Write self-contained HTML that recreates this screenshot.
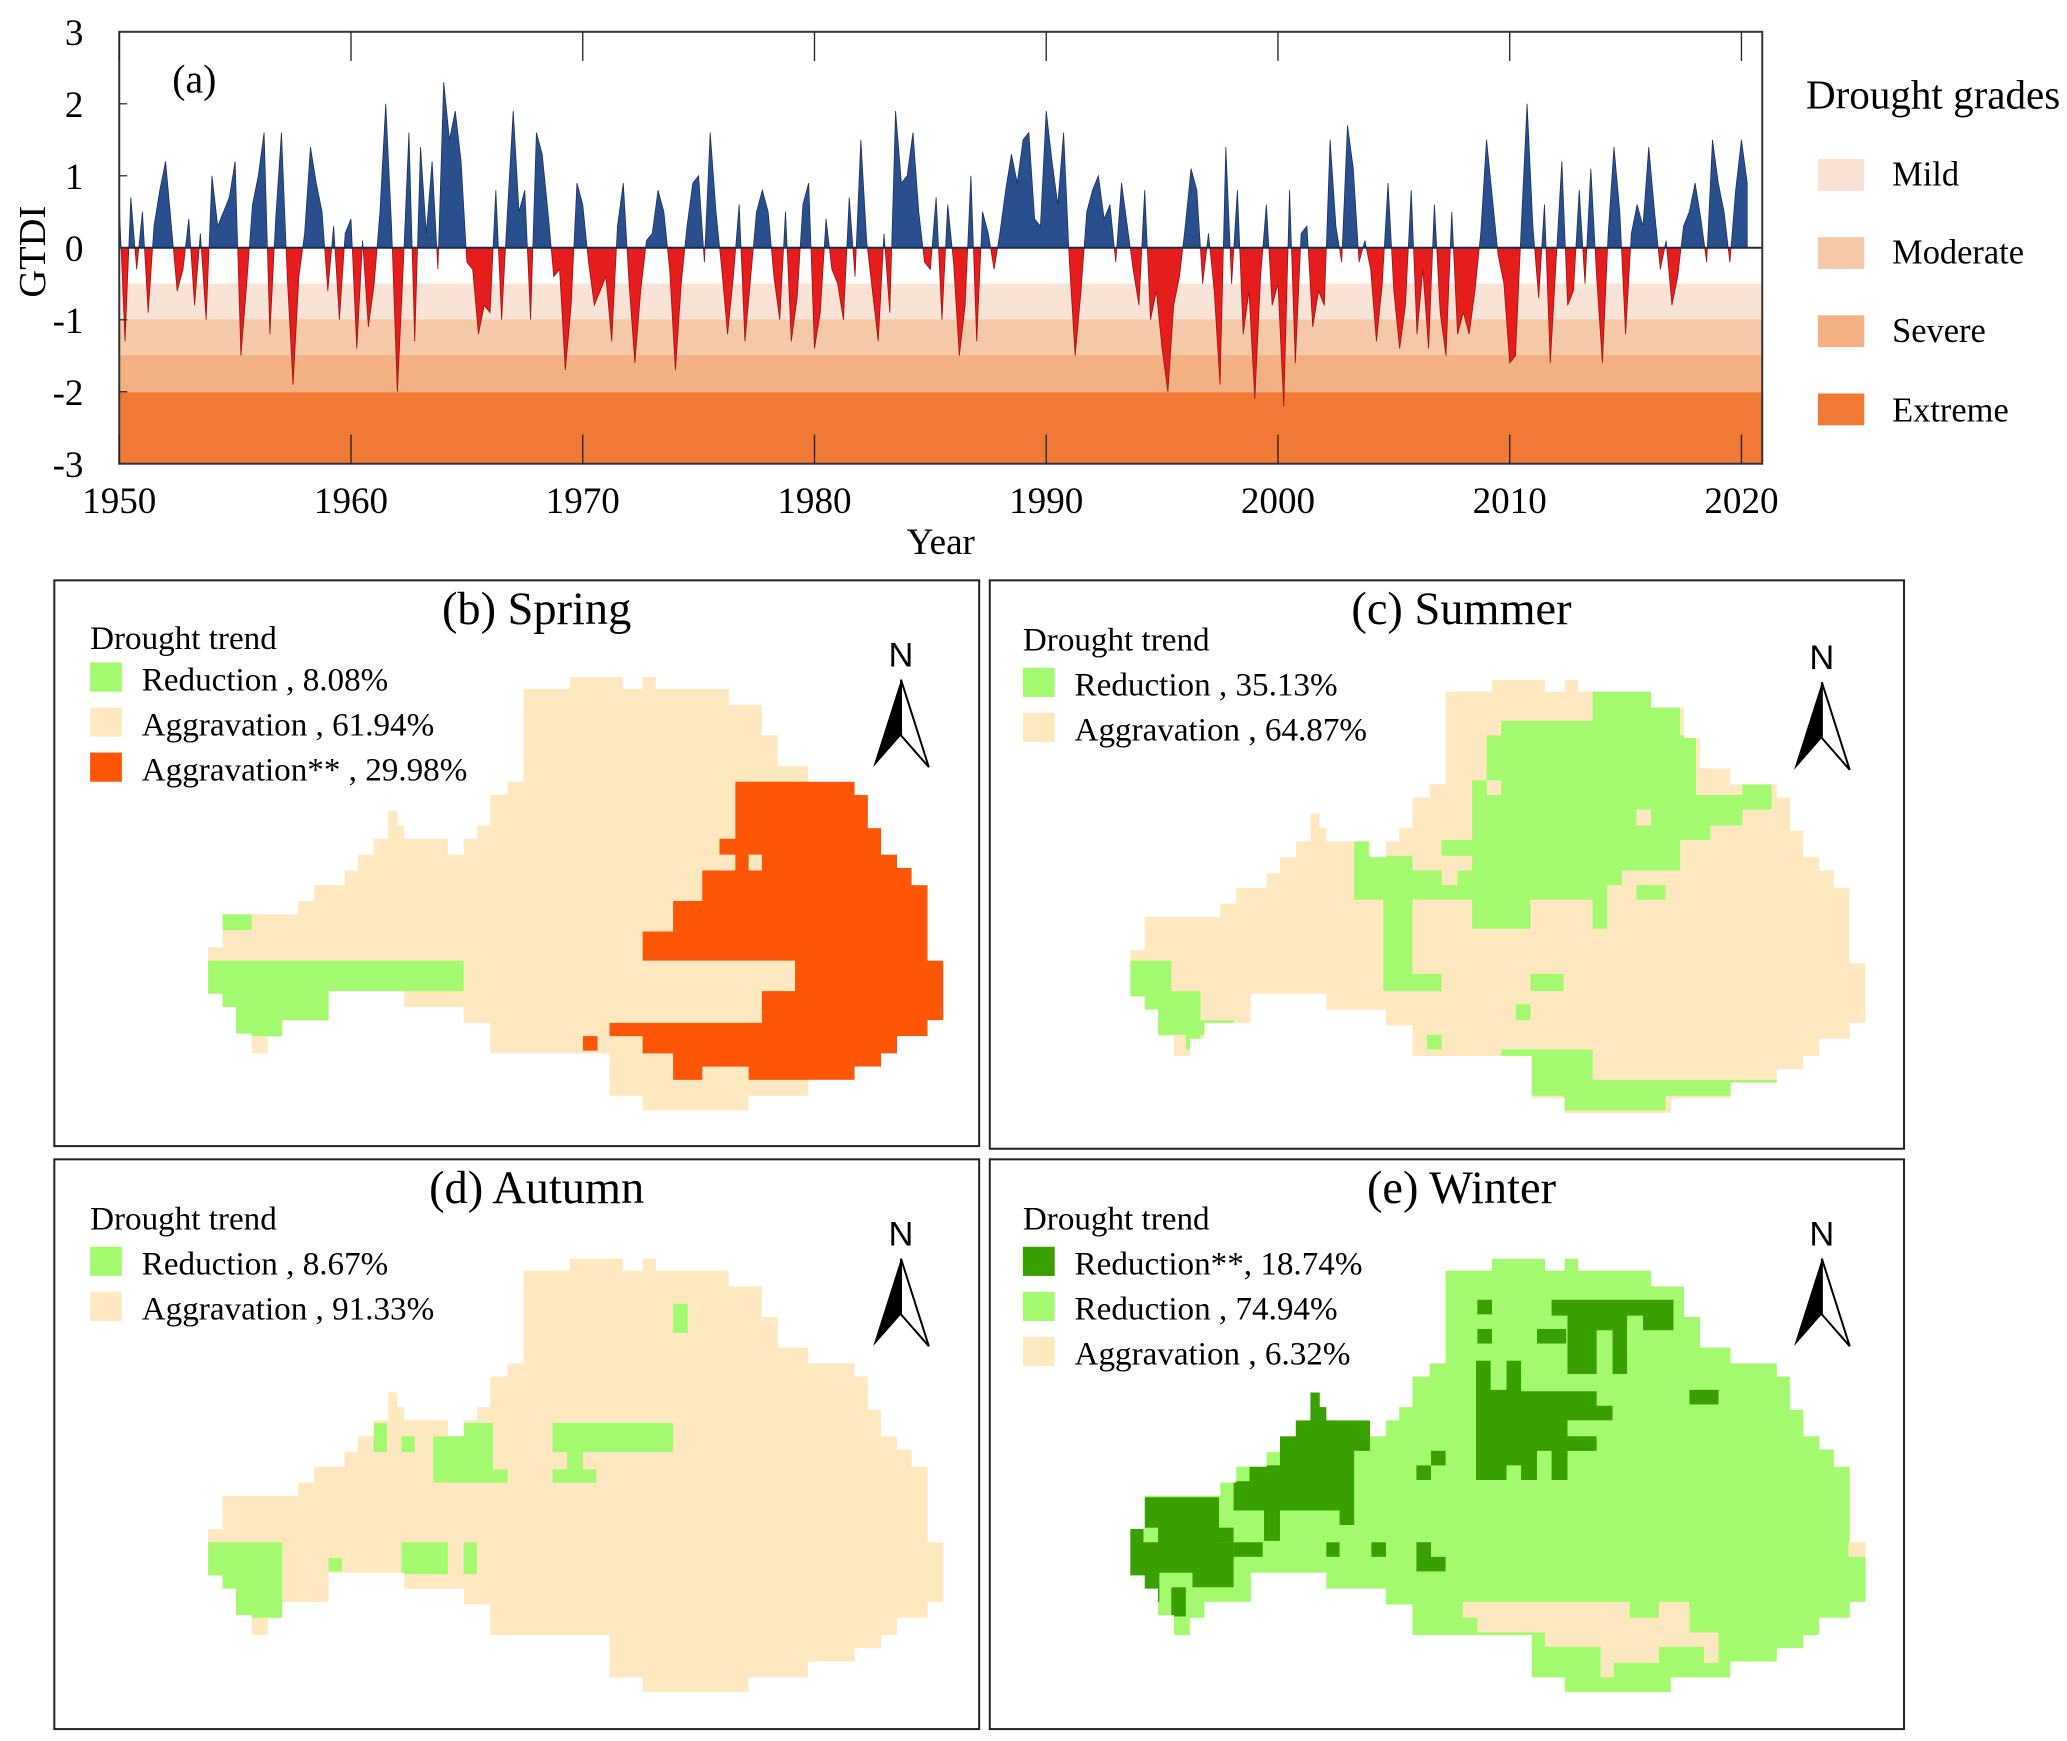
<!DOCTYPE html>
<html><head><meta charset="utf-8"><style>
html,body{margin:0;padding:0;background:#fff;}
svg{display:block;font-family:"Liberation Serif",serif;}
</style></head><body>
<svg id="fig" width="2067" height="1741" viewBox="0 0 1560 1314" preserveAspectRatio="none">
<defs>
<clipPath id="mapclip"><polygon points="430,511 470,511 470,520 485,520 485,511 495,511 495,520 550,520 550,532 575,532 575,555 587,555 587,578 610,578 610,590 645,590 645,600 655,600 655,625 665,625 665,645 677,645 677,655 688,655 688,668 700,668 700,725 712,725 712,770 700,770 700,782 677,782 677,795 665,795 665,805 645,805 645,815 610,815 610,827 565,827 565,838 485,838 485,827 460,827 460,795 370,795 370,772 350,772 350,760 305,760 305,748 248,748 248,770 213,770 213,782 202,782 202,795 190,795 190,780 178,780 178,760 168,760 168,750 157,750 157,715 168,715 168,690 225,690 225,680 237,680 237,668 260,668 260,657 270,657 270,645 282,645 282,633 293,633 293,612 300,612 300,623 305,623 305,633 338,633 338,645 350,645 350,633 360,633 360,623 370,623 370,600 383,600 383,590 395,590 395,520 430,520"/></clipPath>
<clipPath id="posclip"><rect x="90" y="0" width="1240" height="187"/></clipPath>
<clipPath id="negclip"><rect x="90" y="187" width="1240" height="200"/></clipPath>
</defs>

<!-- Panel (a) -->
<g id="chart-a">
<rect x="90" y="214" width="1240" height="27" fill="#f9e3d6"/>
<rect x="90" y="241" width="1240" height="27" fill="#f5c8a8"/>
<rect x="90" y="268" width="1240" height="28" fill="#f3b083"/>
<rect x="90" y="296" width="1240" height="54" fill="#ef7935"/>
<g id="series"></g>
<line x1="90" y1="187" x2="1330" y2="187" stroke="#1a2a4a" stroke-width="1.5"/>
<rect x="90" y="24" width="1240" height="326" fill="none" stroke="#333" stroke-width="1.5"/>
<g id="ticks"></g>
<text x="130" y="70" font-size="30">(a)</text>
<text x="34" y="190" font-size="29" text-anchor="middle" transform="rotate(-90 34 190)">GTDI</text>
<text x="710" y="418" font-size="28" text-anchor="middle">Year</text>
<g>
<text x="1363" y="82" font-size="31">Drought grades</text>
<rect x="1372" y="120" width="35" height="24" fill="#f9e3d6"/>
<text x="1428" y="140" font-size="26">Mild</text>
<rect x="1372" y="179" width="35" height="24" fill="#f5c8a8"/>
<text x="1428" y="199" font-size="26">Moderate</text>
<rect x="1372" y="238" width="35" height="24" fill="#f3b083"/>
<text x="1428" y="258" font-size="26">Severe</text>
<rect x="1372" y="297" width="35" height="24" fill="#ef7935"/>
<text x="1428" y="318" font-size="26">Extreme</text>
</g>
</g>

<!-- Panel frames -->
<rect x="41" y="438" width="698" height="427" fill="none" stroke="#222" stroke-width="1.5"/>
<rect x="747" y="438" width="690" height="429" fill="none" stroke="#222" stroke-width="1.5"/>
<rect x="41" y="875" width="698" height="430" fill="none" stroke="#222" stroke-width="1.5"/>
<rect x="747" y="875" width="690" height="430" fill="none" stroke="#222" stroke-width="1.5"/>

<!-- (b) Spring -->
<g><g clip-path="url(#mapclip)">
<rect x="140" y="500" width="590" height="350" fill="#fde8c0"/>
<rect x="168" y="690" width="22" height="12" fill="#a4fa6e"/>
<polygon fill="#a4fa6e" points="157,725 350,725 350,748 305,748 305,770 248,770 248,782 213,782 213,795 202,795 202,782 178,782 178,760 168,760 168,750 157,750"/>
<polygon fill="#fe5506" points="555,602 555,590 645,590 645,600 655,600 655,625 665,625 665,645 677,645 677,655 688,655 688,668 700,668 700,725 712,725 712,770 700,770 700,782 677,782 677,795 665,795 665,805 645,805 645,815 565,815 565,805 530,805 530,815 508,815 508,795 485,795 485,782 460,782 460,772 575,772 575,748 600,748 600,725 485,725 485,703 508,703 508,680 530,680 530,657 555,657 555,645 543,645 543,633 555,633"/>
<rect x="565" y="645" width="10" height="12" fill="#fde8c0"/>
<rect x="440" y="782" width="11" height="11" fill="#fe5506"/>
</g></g>
<text x="405" y="471" font-size="35" text-anchor="middle">(b) Spring</text>
<g font-size="25">
<text x="68" y="490">Drought trend</text>
<rect x="68" y="500" width="24" height="22" fill="#a4fa6e"/><text x="107" y="521">Reduction , 8.08%</text>
<rect x="68" y="534" width="24" height="22" fill="#fde8c0"/><text x="107" y="555">Aggravation , 61.94%</text>
<rect x="68" y="568" width="24" height="22" fill="#fe5506"/><text x="107" y="589">Aggravation** , 29.98%</text>
</g>

<!-- (c) Summer -->
<g transform="translate(696,2)" clip-path="url(#mapclip)">
<rect x="140" y="500" width="590" height="350" fill="#fde8c0"/>
<g transform="translate(-696,-2)">
<polygon fill="#a4fa6e" points="1202,521 1246,521 1246,532 1268,532 1268,555 1280,555 1280,600 1315,600 1315,589 1337,589 1337,611 1315,611 1315,623 1291,623 1291,634 1268,634 1268,657 1224,657 1224,668 1213,668 1213,701 1202,701 1202,679 1155,679 1155,701 1111,701 1111,679 1066,679 1066,735 1088,735 1088,748 1044,748 1044,679 1022,679 1022,634 1033,634 1033,646 1066,646 1066,657 1088,657 1088,668 1100,668 1100,657 1111,657 1111,646 1088,646 1088,634 1111,634 1111,589 1122,589 1122,555 1133,555 1133,544 1202,544"/>
<rect x="1122" y="589" width="11" height="11" fill="#fde8c0"/>
<rect x="1235" y="611" width="11" height="12" fill="#fde8c0"/>
<rect x="1235" y="668" width="22" height="11" fill="#a4fa6e"/>
<rect x="1155" y="735" width="25" height="13" fill="#a4fa6e"/>
<rect x="1144" y="758" width="11" height="12" fill="#a4fa6e"/>
<rect x="1077" y="781" width="11" height="11" fill="#a4fa6e"/>
<polygon fill="#a4fa6e" points="851,725 884,725 884,748 906,748 906,770 931,770 931,781 906,781 906,792 895,792 895,781 873,781 873,770 862,770 862,758 851,758"/>
<polygon fill="#a4fa6e" points="1133,792 1202,792 1202,815 1348,815 1348,827 1257,827 1257,838 1180,838 1180,827 1155,827 1155,804 1133,804"/>
</g></g>
<text x="1103" y="471" font-size="35" text-anchor="middle">(c) Summer</text>
<g font-size="25">
<text x="772" y="491">Drought trend</text>
<rect x="772" y="504" width="24" height="22" fill="#a4fa6e"/><text x="811" y="525">Reduction , 35.13%</text>
<rect x="772" y="538" width="24" height="22" fill="#fde8c0"/><text x="811" y="559">Aggravation , 64.87%</text>
</g>

<!-- (d) Autumn -->
<g transform="translate(0,439)"><g clip-path="url(#mapclip)">
<rect x="140" y="500" width="590" height="350" fill="#fde8c0"/>
<rect x="508" y="545" width="11" height="22" fill="#a4fa6e"/>
<polygon fill="#a4fa6e" points="157,725 213,725 213,770 237,770 237,782 213,782 213,795 202,795 202,782 178,782 178,770 157,770"/>
<rect x="303" y="725" width="35" height="24" fill="#a4fa6e"/>
<rect x="350" y="725" width="10" height="24" fill="#a4fa6e"/>
<rect x="248" y="737" width="10" height="10" fill="#a4fa6e"/>
<polygon fill="#a4fa6e" points="327,645 338,645 338,635 372,635 372,670 383,670 383,680 327,680"/>
<rect x="282" y="635" width="10" height="22" fill="#a4fa6e"/>
<rect x="303" y="645" width="10" height="12" fill="#a4fa6e"/>
<polygon fill="#a4fa6e" points="417,635 508,635 508,657 440,657 440,670 450,670 450,680 417,680 417,670 428,670 428,657 417,657"/>
</g></g>
<text x="405" y="908" font-size="35" text-anchor="middle">(d) Autumn</text>
<g font-size="25">
<text x="68" y="928">Drought trend</text>
<rect x="68" y="941" width="24" height="22" fill="#a4fa6e"/><text x="107" y="962">Reduction , 8.67%</text>
<rect x="68" y="975" width="24" height="22" fill="#fde8c0"/><text x="107" y="996">Aggravation , 91.33%</text>
</g>

<!-- (e) Winter -->
<g transform="translate(696,439)" clip-path="url(#mapclip)">
<rect x="140" y="500" width="590" height="350" fill="#a4fa6e"/>
<g transform="translate(-696,-439)">
<polygon fill="#fde8c0" points="1104,1209 1230,1209 1230,1221 1252,1221 1252,1209 1275,1209 1275,1232 1297,1232 1297,1255 1286,1255 1286,1243 1252,1243 1252,1255 1218,1255 1218,1266 1208,1266 1208,1243 1166,1243 1166,1232 1115,1232 1115,1221 1104,1221"/>
<rect x="1395" y="1164" width="15" height="11" fill="#fde8c0"/>
<polygon fill="#38a000" points="852,1153 863,1153 863,1130 920,1130 920,1164 931,1164 931,1198 900,1198 900,1187 875,1187 875,1209 863,1209 863,1198 852,1198"/>
<polygon fill="#38a000" points="988,1050 999,1050 999,1061 1011,1061 1011,1072 1034,1072 1034,1095 1022,1095 1022,1151 1011,1151 1011,1140 966,1140 966,1163 954,1163 954,1140 931,1140 931,1118 943,1118 943,1106 966,1106 966,1084 977,1084 977,1072 988,1072"/>
<polygon fill="#38a000" points="1114,1027 1125,1027 1125,1049 1137,1049 1137,1027 1148,1027 1148,1050 1205,1050 1205,1061 1217,1061 1217,1072 1183,1072 1183,1084 1205,1084 1205,1095 1183,1095 1183,1117 1171,1117 1171,1095 1160,1095 1160,1117 1148,1117 1148,1106 1137,1106 1137,1117 1114,1117"/>
<polygon fill="#38a000" points="1171,981 1263,981 1263,1004 1240,1004 1240,993 1228,993 1228,1037 1217,1037 1217,1004 1205,1004 1205,1037 1183,1037 1183,993 1171,993"/>
<rect x="1115" y="981" width="11" height="11" fill="#38a000"/>
<rect x="1115" y="1003" width="11" height="11" fill="#38a000"/>
<rect x="1160" y="1003" width="22" height="11" fill="#38a000"/>
<rect x="1275" y="1049" width="22" height="11" fill="#38a000"/>
<rect x="1080" y="1095" width="11" height="11" fill="#38a000"/>
<rect x="1069" y="1106" width="11" height="11" fill="#38a000"/>
<rect x="1001" y="1164" width="10" height="11" fill="#38a000"/>
<rect x="1035" y="1164" width="11" height="11" fill="#38a000"/>
<polygon fill="#38a000" points="1069,1164 1080,1164 1080,1175 1091,1175 1091,1186 1069,1186"/>
<rect x="931" y="1164" width="22" height="11" fill="#38a000"/>
<rect x="920" y="1153" width="11" height="11" fill="#38a000"/>
<rect x="884" y="1198" width="11" height="22" fill="#38a000"/>
<rect x="863" y="1153" width="11" height="11" fill="#a4fa6e"/>
</g></g>
<text x="1103" y="908" font-size="35" text-anchor="middle">(e) Winter</text>
<g font-size="25">
<text x="772" y="928">Drought trend</text>
<rect x="772" y="941" width="24" height="22" fill="#38a000"/><text x="811" y="962">Reduction**, 18.74%</text>
<rect x="772" y="975" width="24" height="22" fill="#a4fa6e"/><text x="811" y="996">Reduction , 74.94%</text>
<rect x="772" y="1009" width="24" height="22" fill="#fde8c0"/><text x="811" y="1030">Aggravation , 6.32%</text>
</g>

<!-- North arrows -->
<g>
<g transform="translate(680,493)"><text x="0" y="10" font-family="Liberation Sans,sans-serif" font-size="26" text-anchor="middle">N</text><polygon points="0,20 -21,86 0,62" fill="#000"/><polygon points="0,20 21,86 0,62" fill="#fff" stroke="#000" stroke-width="1.5"/></g>
<g transform="translate(1375,495)"><text x="0" y="10" font-family="Liberation Sans,sans-serif" font-size="26" text-anchor="middle">N</text><polygon points="0,20 -21,86 0,62" fill="#000"/><polygon points="0,20 21,86 0,62" fill="#fff" stroke="#000" stroke-width="1.5"/></g>
<g transform="translate(680,930)"><text x="0" y="10" font-family="Liberation Sans,sans-serif" font-size="26" text-anchor="middle">N</text><polygon points="0,20 -21,86 0,62" fill="#000"/><polygon points="0,20 21,86 0,62" fill="#fff" stroke="#000" stroke-width="1.5"/></g>
<g transform="translate(1375,930)"><text x="0" y="10" font-family="Liberation Sans,sans-serif" font-size="26" text-anchor="middle">N</text><polygon points="0,20 -21,86 0,62" fill="#000"/><polygon points="0,20 21,86 0,62" fill="#fff" stroke="#000" stroke-width="1.5"/></g>
</g>
</svg>
<script>
// Quarterly GTDI estimates 1950..2020
const startYear = 1950;
const gtdiValues = [
0.6,-1.3,0.7,-0.3, 0.5,-0.9,0.3,0.8, 1.2,0.3,-0.6,-0.3, 0.4,-0.8,0.2,-1.0,
1.0,0.3,0.5,0.7, 1.2,-1.5,-0.5,0.6, 1.0,1.6,-1.2,0.4, 1.6,-0.4,-1.9,-0.4,
0.2,1.4,0.9,0.5, -0.6,0.3,-1.0,0.2, 0.4,-1.4,0.1,-1.1, -0.5,0.5,2.0,0.3,
-2.0,-0.3,1.6,-1.3, 1.4,0.2,1.2,-0.3, 2.3,1.5,1.9,1.2, -0.2,-0.3,-1.2,-0.8,
-0.9,0.8,-1.0,0.5, 1.9,0.5,0.8,-1.0, 1.6,1.3,0.5,-0.4, -0.3,-1.7,-0.8,0.9,
0.6,-0.2,-0.8,-0.6, -0.4,-1.3,0.3,0.9, -0.5,-1.6,-0.6,0.1, 0.2,0.8,0.5,-0.3,
-1.7,-0.5,0.3,0.9, 1.0,-0.2,1.6,0.5, -0.3,-1.2,-0.4,0.6, -1.3,-0.4,0.5,0.8,
0.5,-0.4,-1.0,0.5, -1.3,-0.7,0.6,0.9, -1.4,-0.9,0.4,-0.3, -0.5,-1.0,0.7,-0.4,
1.5,0.1,-0.6,-1.3, 0.2,-0.9,1.9,0.9, 1.0,1.6,0.5,-0.2, -0.3,0.7,-1.0,0.6,
-0.2,-1.5,-0.8,1.0, -1.3,0.5,0.2,-0.3, 0.2,0.8,1.3,0.9, 1.5,1.6,0.4,0.3,
1.9,1.2,0.6,1.6, -0.2,-1.5,-0.6,0.5, 0.8,1.0,0.4,0.6, -0.2,0.9,0.3,-0.3,
-0.8,0.8,-1.0,-0.6, -1.4,-2.0,-0.8,-0.4, 0.3,1.1,0.8,-0.5, 0.2,-0.6,-1.9,1.4,
-0.5,0.8,-1.2,-0.6, -2.1,-0.4,0.6,-0.8, -0.5,-2.2,0.8,-1.6, 0.2,0.3,-1.1,-0.6,
-0.8,1.5,0.3,-0.2, 1.7,1.1,-0.2,0.1, -0.3,-1.3,-0.5,0.9, -0.6,-1.4,-0.8,0.8,
-1.2,-0.3,-1.4,0.6, -0.9,-1.5,0.5,-1.2, -0.9,-1.2,-0.6,0.2, 1.5,0.7,-0.1,-0.5,
-1.6,-1.5,0.3,2.0, 0.3,-0.7,0.6,-1.6, -0.2,1.2,-0.8,-0.6, 0.8,-0.5,1.1,-0.4,
-1.6,0.2,1.4,0.5, -1.2,0.2,0.6,0.3, 1.4,0.5,-0.3,0.1, -0.8,-0.4,0.3,0.5,
0.9,0.4,-0.2,1.5, 0.9,0.5,-0.2,0.8, 1.5,0.9
];
const yTicks = [3,2,1,0,-1,-2,-3];
const xTicks = [1950,1960,1970,1980,1990,2000,2010,2020];
const NS="http://www.w3.org/2000/svg";
function xs(year){return 90+(year-1950)*17.49;}
function ys(v){return 187-v*54.33;}
const g=document.getElementById('series');
let d='M'+xs(startYear)+','+ys(0);
gtdiValues.forEach((v,i)=>{d+=' L'+xs(startYear+i/4).toFixed(2)+','+ys(v).toFixed(2);});
d+=' L'+xs(startYear+(gtdiValues.length-1)/4).toFixed(2)+','+ys(0)+' Z';
const pos=document.createElementNS(NS,'path');
pos.setAttribute('d',d);pos.setAttribute('fill','#2a4f8f');pos.setAttribute('stroke','#1a3060');pos.setAttribute('stroke-width','0.6');pos.setAttribute('clip-path','url(#posclip)');


g.appendChild(pos);
const neg=document.createElementNS(NS,'path');
neg.setAttribute('d',d);neg.setAttribute('fill','#e51d1d');neg.setAttribute('stroke','#a01010');neg.setAttribute('stroke-width','0.6');neg.setAttribute('clip-path','url(#negclip)');


g.appendChild(neg);
const t=document.getElementById('ticks');
yTicks.forEach(v=>{
 const tx=document.createElementNS(NS,'text');
 tx.setAttribute('x',63);tx.setAttribute('y',ys(v)+10);tx.setAttribute('font-size','28');tx.setAttribute('text-anchor','end');
 tx.textContent=v;
 
 
 t.appendChild(tx);
 const ln=document.createElementNS(NS,'line');
 ln.setAttribute('x1',90);ln.setAttribute('x2',96);ln.setAttribute('y1',ys(v));ln.setAttribute('y2',ys(v));ln.setAttribute('stroke','#333');
 
 
 t.appendChild(ln);
});
xTicks.forEach(yr=>{
 const tx=document.createElementNS(NS,'text');
 tx.setAttribute('x',xs(yr));tx.setAttribute('y',387);tx.setAttribute('font-size','28');tx.setAttribute('text-anchor','middle');
 tx.textContent=yr;
 
 
 t.appendChild(tx);
 [[24,46],[328,350]].forEach(p=>{
  const ln=document.createElementNS(NS,'line');
  ln.setAttribute('x1',xs(yr));ln.setAttribute('x2',xs(yr));ln.setAttribute('y1',p[0]);ln.setAttribute('y2',p[1]);ln.setAttribute('stroke','#222');
  
  
  t.appendChild(ln);
 });
});
</script>
</body></html>
